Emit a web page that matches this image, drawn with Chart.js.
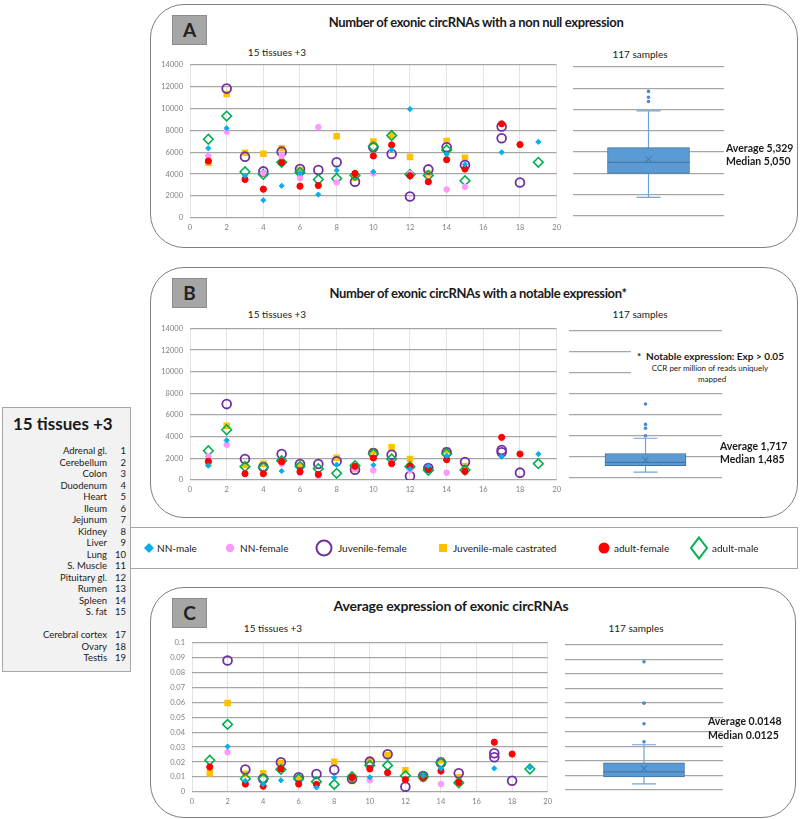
<!DOCTYPE html>
<html>
<head>
<meta charset="utf-8">
<script src="https://cdn.jsdelivr.net/npm/chart.js@4.4.1/dist/chart.umd.min.js"></script>
<style>
  body { margin:0; width:800px; height:819px; position:relative; background:#fff; font-family: Lato, "Open Sans", sans-serif; color:#1a1a1a; overflow:hidden; }
  .panel { position:absolute; border:1px solid #808080; border-radius:34px; background:#fff; }
  .tag { position:absolute; left:172px; width:33px; height:28px; background:#a6a6a6; border:1px solid #8c8c8c; font-size:19px; font-weight:700; text-align:center; line-height:28px; color:#222; }
  .t { position:absolute; white-space:nowrap; transform:translate(-50%,-50%); }
  .title { font-weight:700; font-size:13px; letter-spacing:-0.35px; }
  .sub { font-size:10px; }
  .stat { position:absolute; font-weight:700; font-size:10.5px; white-space:nowrap; }
  canvas { position:absolute; }
  #legend { position:absolute; left:130px; top:527px; width:666px; height:40px; border:1px solid #a6a6a6; background:#fff; }
  #legend span { position:absolute; top:14px; font-size:10px; white-space:nowrap; }
  #legend svg { position:absolute; overflow:visible; }
  #tissues { position:absolute; left:2px; top:407px; width:127px; height:263px; background:#f2f2f2; border:1px solid #a6a6a6; }
  #tissues .row { position:absolute; font-size:9.5px; white-space:nowrap; }
</style>
</head>
<body>

<div class="panel" style="left:150px; top:4px; width:646px; height:242px;"></div>
<div class="panel" style="left:150px; top:267px; width:646px; height:249px;"></div>
<div class="panel" style="left:150px; top:587px; width:644px; height:229px;"></div>

<div class="tag" style="top:15px;">A</div>
<div class="tag" style="top:278px;">B</div>
<div class="tag" style="top:598px;">C</div>

<div class="t title" style="left:476px; top:22px;">Number of exonic circRNAs with a non null expression</div>
<div class="t title" style="left:478px; top:293px;">Number of exonic circRNAs with a notable expression*</div>
<div class="t title" style="left:451px; top:605px; font-size:14px; letter-spacing:-0.2px;">Average expression of exonic circRNAs</div>

<div class="t sub" style="left:277px; top:52px;">15 tissues +3</div>
<div class="t sub" style="left:277px; top:314px;">15 tissues +3</div>
<div class="t sub" style="left:273px; top:628px;">15 tissues +3</div>
<div class="t sub" style="left:640px; top:54px;">117 samples</div>
<div class="t sub" style="left:640px; top:314px;">117 samples</div>
<div class="t sub" style="left:636px; top:628px;">117 samples</div>

<canvas id="scatterA" width="416" height="185" style="left:150px; top:53px;"></canvas>
<canvas id="scatterB" width="416" height="183" style="left:150px; top:317px;"></canvas>
<canvas id="scatterC" width="407" height="181" style="left:150px; top:631px;"></canvas>
<canvas id="boxA" width="159" height="157" style="left:569px; top:63px;"></canvas>
<canvas id="boxB" width="161" height="155" style="left:565px; top:327px;"></canvas>
<canvas id="boxC" width="166" height="153" style="left:561px; top:641px;"></canvas>

<div style="position:absolute; left:631px; top:344px; width:158px; height:42px; background:#fff;"></div>
<div class="stat" style="left:637px; top:350px; font-size:10px;">*&nbsp; Notable expression: Exp &gt; 0.05</div>
<div class="t" style="left:710px; top:368px; font-size:8px;">CCR per million of reads uniquely</div>
<div class="t" style="left:712px; top:379px; font-size:8px;">mapped</div>

<div class="stat" style="left:726px; top:142px; line-height:13px;">Average 5,329<br>Median 5,050</div>
<div class="stat" style="left:720px; top:440px; line-height:12.5px;">Average 1,717<br>Median 1,485</div>
<div class="stat" style="left:708px; top:714px; line-height:14px;">Average 0.0148<br>Median 0.0125</div>

<div id="legend"></div>
<div id="tissues"><div style="position:absolute; left:10px; top:5px; font-size:17px; font-weight:700;">15 tissues +3</div></div>

<script>
// tissue numbers on the x axis (16 is left empty on purpose)
const tissueNo = [1, 2, 3, 4, 5, 6, 7, 8, 9, 10, 11, 12, 13, 14, 15, 17, 18, 19];
const tissueNames = ['Adrenal gl.', 'Cerebellum', 'Colon', 'Duodenum', 'Heart', 'Ileum', 'Jejunum', 'Kidney', 'Liver',
  'Lung', 'S. Muscle', 'Pituitary gl.', 'Rumen', 'Spleen', 'S. fat', 'Cerebral cortex', 'Ovary', 'Testis'];
const groupNames = ['NN-male', 'NN-female', 'Juvenile-female', 'Juvenile-male castrated', 'adult-female', 'adult-male'];

// A: number of exonic circRNAs with a non null expression (an inner array = two samples)
const nnMaleA = [6358, 8193, 3852, 1620, 2935, 4100, 2140, 4341, null, 4219, 6205, 9935, null, 5808, 4891, 5991, null, 6939];
const nnFemaleA = [5655, 7887, null, 4100, 5655, 3638, 8284, 3240, null, 4066, null, 4066, null, 2598, 2843, null, null, null];
const juvFemaleA = [null, 11800, 5594, 4249, 6053, 4463, 4372, 5075, 3302, 6450, 5839, 1956, 4432, 6450, 4830, [8345, 7275], 3240, null];
const juvMaleA = [5044, 11311, 5961, 5869, 6358, 4372, null, 7459, 3699, 6970, 7520, 5564, 4066, 7031, 5503, null, null, null];
const adultFemaleA = [5197, null, 3516, 2629, 5044, 2904, 2965, null, 4066, 5655, 6664, 3852, 3302, 5319, 4463, 8590, 6695, null];
const adultMaleA = [7184, 9293, 4219, 3974, 5075, 4158, 3516, 3607, 3882, 6511, 7520, 3974, 3882, 6205, 3393, null, null, 5075];

// B: number of exonic circRNAs with a notable expression
const nnMaleB = [1323, 3662, null, null, 831, null, null, 1415, null, 1385, null, 1015, 1292, 2246, null, 2154, null, 2400];
const nnFemaleB = [2185, 3262, null, null, 1477, 646, 400, null, 1000, 892, null, 892, null, 677, null, null, null, null];
const juvFemaleB = [null, 7015, 1938, 1200, 2400, 1477, 1477, 1723, 954, 2492, 2339, 369, 1108, 2554, 1662, [2769, 2554], 677, null];
const juvMaleB = [1569, 5015, 1415, 1508, 1785, 1262, null, 2062, 1015, 2646, 3015, 1938, 954, 2738, 1292, null, null, null];
const adultFemaleB = [1723, null, 585, 585, 1692, 769, 523, null, 1262, 2031, 1508, 1292, 1046, 1877, 800, 3939, 2400, null];
const adultMaleB = [2708, 4646, 1231, 1169, 1785, 1262, 1046, 615, 1323, 2431, 1938, 1231, 892, 2431, 923, null, null, 1508];

// C: average expression of exonic circRNAs
const nnMaleC = [null, 0.0304, 0.0075, 0.0053, 0.0078, null, 0.003, 0.0096, null, 0.0098, null, null, 0.0107, 0.0158, null, 0.0158, null, 0.0163];
const nnFemaleC = [null, 0.0266, null, null, null, null, null, null, null, 0.0078, null, null, null, 0.0053, null, null, null, null];
const juvFemaleC = [null, 0.088, 0.0151, 0.0089, 0.0199, 0.0098, 0.012, 0.0149, 0.0089, 0.0203, 0.0252, 0.0035, 0.0107, 0.0196, 0.0125, [0.0259, 0.0232], 0.0075, null];
const juvMaleC = [0.0126, 0.0595, 0.0122, 0.0126, 0.0194, 0.0089, null, 0.0203, 0.0073, 0.0214, 0.0248, 0.0145, 0.0089, 0.0212, 0.0098, null, null, null];
const adultFemaleC = [0.0167, null, 0.0053, 0.0039, 0.0154, 0.0053, 0.0051, null, 0.0098, 0.0154, 0.0129, 0.0082, 0.0098, 0.014, 0.0064, 0.0333, 0.0254, null];
const adultMaleC = [0.0212, 0.0452, 0.0089, 0.0089, 0.0151, 0.0089, 0.0069, 0.0051, 0.0102, 0.0178, 0.0178, 0.0109, 0.0102, 0.0196, 0.0062, null, null, 0.0154];

// box plots over the 117 samples: [whisker low, q1, median, mean, q3, whisker high]
const boxStatsA = [1742, 4006, 5050, 5329, 6418, 9874];
const outliersA = [10763, 11158, 11708];
const boxStatsB = [554, 1164, 1485, 1717, 2336, 3786];
const outliersB = [4026, 4737, 5106, 7045];
const boxStatsC = [0.0042, 0.0091, 0.0125, 0.0148, 0.0187, 0.0312];
const outliersC = [0.0332, 0.0457, 0.0599, 0.0884];

const FONT = 'Lato';
const gridGray = '#a6a6a6';

// marker look of each group, same order as groupNames; order 0 is drawn on top
const markers = [
  {style: 'rectRot', radius: 2.6, fill: '#00b0f0', line: '#00b0f0', width: 1, order: 0},
  {style: 'circle', radius: 2.8, fill: '#ff99ff', line: '#ff99ff', width: 1, order: 2},
  {style: 'circle', radius: 4.4, fill: 'rgba(0,0,0,0)', line: '#7030a0', width: 1.8, order: 4},
  {style: 'rect', radius: 4.6, fill: '#ffc000', line: '#ffc000', width: 0, order: 5},
  {style: 'circle', radius: 3.1, fill: '#ff0000', line: '#ff0000', width: 1, order: 1},
  {style: 'rectRot', radius: 4.8, fill: 'rgba(0,0,0,0)', line: '#00b050', width: 1.6, order: 3}
];

function toPoints(values) {
    let pts = [];
    values.forEach((v, i) => {
        if (v == null) return;
        (Array.isArray(v) ? v : [v]).forEach(y => pts.push({x: tissueNo[i], y: y}));
    });
    return pts;
}

function makeScatter(id, seriesList, yMax, yStep, yAxisWidth, fmt) {
    const datasets = seriesList.map((values, i) => ({
        label: groupNames[i],
        data: toPoints(values),
        pointStyle: markers[i].style,
        pointRadius: markers[i].radius,
        pointBackgroundColor: markers[i].fill,
        pointBorderColor: markers[i].line,
        pointBorderWidth: markers[i].width,
        order: markers[i].order
    }));
    new Chart(document.getElementById(id), {
        type: 'scatter',
        data: {datasets: datasets},
        options: {
            responsive: false,
            animation: false,
            layout: {padding: {top: 1, right: 2, left: 0, bottom: 0}},
            plugins: {legend: {display: false}, tooltip: {enabled: false}},
            scales: {
                x: {
                    type: 'linear', min: 0, max: 20,
                    ticks: {stepSize: 2, padding: 5, color: '#808080', font: {family: FONT, size: 7.5}},
                    grid: {color: '#e4e4e4', drawTicks: false},
                    border: {display: false},
                    afterFit: scale => { scale.height = 20; }
                },
                y: {
                    min: 0, max: yMax,
                    ticks: {stepSize: yStep, padding: 7, color: '#808080', font: {family: FONT, size: 7.5}, callback: fmt},
                    grid: {color: gridGray, lineWidth: 1.3, drawTicks: false},
                    border: {display: false},
                    afterFit: scale => { scale.width = yAxisWidth; }
                }
            }
        }
    });
}

// whiskers, median and mean drawn with the chart's own y scale
const boxParts = {
    id: 'boxParts',
    beforeDatasetsDraw(chart, args, opts) {
        const s = opts.stats, y = chart.scales.y, ctx = chart.ctx;
        const cx = chart.getDatasetMeta(0).data[0].x;
        const lo = y.getPixelForValue(s[0]), hi = y.getPixelForValue(s[5]);
        ctx.save();
        ctx.strokeStyle = '#6fa3d6';
        ctx.lineWidth = 1.2;
        ctx.beginPath();
        ctx.moveTo(cx, lo); ctx.lineTo(cx, hi);
        ctx.moveTo(cx - 12, lo); ctx.lineTo(cx + 12, lo);
        ctx.moveTo(cx - 12, hi); ctx.lineTo(cx + 12, hi);
        ctx.stroke();
        ctx.restore();
    },
    afterDatasetsDraw(chart, args, opts) {
        const s = opts.stats, y = chart.scales.y, ctx = chart.ctx;
        const bar = chart.getDatasetMeta(0).data[0];
        const med = y.getPixelForValue(s[2]), mean = y.getPixelForValue(s[3]);
        ctx.save();
        ctx.strokeStyle = '#41719c';
        ctx.lineWidth = 1;
        ctx.beginPath();
        ctx.moveTo(bar.x - bar.width / 2, med); ctx.lineTo(bar.x + bar.width / 2, med);
        ctx.moveTo(bar.x - 3, mean - 3); ctx.lineTo(bar.x + 3, mean + 3);
        ctx.moveTo(bar.x - 3, mean + 3); ctx.lineTo(bar.x + 3, mean - 3);
        ctx.stroke();
        ctx.restore();
    }
};

function makeBox(id, stats, outliers, yMax, yStep, boxWidth) {
    const label = '117 samples';
    new Chart(document.getElementById(id), {
        type: 'bar',
        data: {
            labels: [label],
            datasets: [
                {
                    data: [[stats[1], stats[4]]],
                    backgroundColor: '#5b9bd5',
                    borderColor: '#41719c',
                    borderWidth: 1,
                    borderSkipped: false,
                    barThickness: boxWidth
                },
                {
                    type: 'scatter',
                    data: outliers.map(v => ({x: label, y: v})),
                    pointRadius: 1.8,
                    pointBackgroundColor: '#4a8ad0',
                    pointBorderWidth: 0
                }
            ]
        },
        options: {
            responsive: false,
            animation: false,
            layout: {padding: 2},
            plugins: {legend: {display: false}, tooltip: {enabled: false}, boxParts: {stats: stats}},
            scales: {
                x: {display: false},
                y: {
                    min: 0, max: yMax,
                    ticks: {stepSize: yStep, display: false},
                    grid: {color: gridGray, lineWidth: 1.3, drawTicks: false},
                    border: {display: false},
                    afterFit: scale => { scale.width = 0; }
                }
            }
        },
        plugins: [boxParts]
    });
}

const countFmt = v => String(v);
const exprFmt = v => String(Math.round(v * 100) / 100);

makeScatter('scatterA', [nnMaleA, nnFemaleA, juvFemaleA, juvMaleA, adultFemaleA, adultMaleA], 14000, 2000, 40, countFmt);
makeScatter('scatterB', [nnMaleB, nnFemaleB, juvFemaleB, juvMaleB, adultFemaleB, adultMaleB], 14000, 2000, 40, countFmt);
makeScatter('scatterC', [nnMaleC, nnFemaleC, juvFemaleC, juvMaleC, adultFemaleC, adultMaleC], 0.1, 0.01, 42, exprFmt);
makeBox('boxA', boxStatsA, outliersA, 14000, 2000, 82);
makeBox('boxB', boxStatsB, outliersB, 14000, 2000, 81);
makeBox('boxC', boxStatsC, outliersC, 0.1, 0.01, 81);

// legend row (positions in the legend box)
const legendX = [18, 99, 193, 312, 473, 568];
const legendSvg = [
    '<polygon points="0,-5 5,0 0,5 -5,0" fill="#00b0f0"/>',
    '<circle r="4.2" fill="#ff99ff"/>',
    '<circle r="7.5" fill="none" stroke="#7030a0" stroke-width="2"/>',
    '<rect x="-4" y="-4" width="8" height="8" fill="#ffc000"/>',
    '<circle r="5.5" fill="#ff0000"/>',
    '<polygon points="0,-10.5 8,0 0,10.5 -8,0" fill="none" stroke="#00b050" stroke-width="2"/>'
];
const legendTextGap = [8, 10, 14, 10, 10, 13];
const legend = document.getElementById('legend');
groupNames.forEach((name, i) => {
    legend.insertAdjacentHTML('beforeend',
        '<svg width="1" height="1" style="left:' + legendX[i] + 'px; top:20px;">' + legendSvg[i] + '</svg>' +
        '<span style="left:' + (legendX[i] + legendTextGap[i]) + 'px;">' + name + '</span>');
});

// tissue list on the left
const tissuesBox = document.getElementById('tissues');
tissueNames.forEach((name, i) => {
    const top = (i < 15 ? 37 + i * 11.5 : 221 + (i - 15) * 11.5);
    tissuesBox.insertAdjacentHTML('beforeend',
        '<div class="row" style="right:23px; top:' + top + 'px;">' + name + '</div>' +
        '<div class="row" style="right:4px; top:' + top + 'px;">' + tissueNo[i] + '</div>');
});
</script>
</body>
</html>
